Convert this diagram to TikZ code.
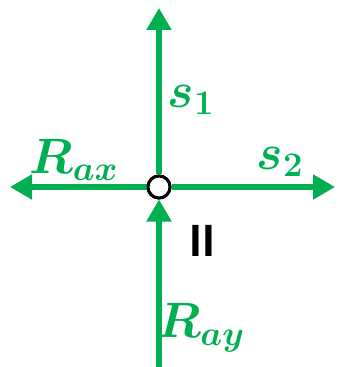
\documentclass[tikz,border=0pt]{standalone}
\usepackage{amsmath}
\usepackage{bm}
\usepackage{fontspec}
\newfontfamily\calib{Carlito}
\usetikzlibrary{arrows.meta}
\definecolor{forcegreen}{RGB}{0,176,80}

\begin{document}
\begin{tikzpicture}[
        x=0.5pt, y=-0.5pt,
        joint/.style={circle, draw=black, fill=white, line width=1.5pt, minimum size=11pt, inner sep=0pt},
        force/.style={-{Triangle[length=11pt, width=12pt]}, draw=forcegreen, line width=2.6pt},
        flabel/.style={text=forcegreen, font=\fontsize{23}{26}\selectfont, inner sep=0pt}
    ]
    \useasboundingbox (0,0) rectangle (338,367);
    \coordinate (top) at (159,8);
    \coordinate (left) at (10,187);
    \coordinate (right) at (335,187);
    \coordinate (bottom) at (159,367);
    \node[joint] (O) at (159,187) {};
    \draw[force] (O) -- (top);
    \draw[force] (O) -- (left);
    \draw[force] (O) -- (right);
    \draw[force] (bottom) -- (O);
    \node[joint] at (O) {};
    % labels
    \node[flabel] (s1) at (191,100) {$\bm{s_1}$};
    \node[flabel] (rax) at (74,160) {$\bm{R_{ax}}$};
    \node[flabel] (s2) at (280,162) {$\bm{s_2}$};
    \node[flabel] (ray) at (201,328) {$\bm{R_{ay}}$};
    \node[inner sep=0pt, font=\calib\bfseries\fontsize{24}{26}\selectfont] (part) at (202,241) {II};
\end{tikzpicture}
\end{document}
